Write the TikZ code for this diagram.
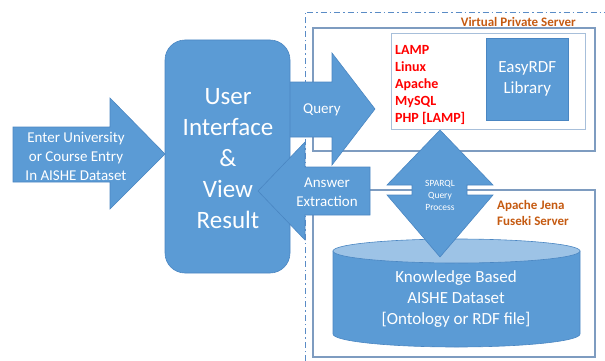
\documentclass[tikz,border=0pt]{standalone}
\usepackage{fontspec}
\setmainfont{Carlito}
\definecolor{shapeblue}{HTML}{5B9BD5}
\definecolor{shapeedge}{HTML}{4A86C2}
\definecolor{cyltop}{HTML}{9DC3E6}
\definecolor{boxline}{HTML}{7E9CC0}
\definecolor{innerline}{HTML}{A7BFDA}
\definecolor{dashline}{HTML}{5A8CC6}
\definecolor{orangetxt}{HTML}{C55A11}
\tikzset{
  blueshape/.style={fill=shapeblue, draw=shapeedge, line width=0.6pt, line join=miter},
  whitetext/.style={text=white, align=center, inner sep=0pt},
  servbox/.style={draw=boxline, line width=1.4pt},
  lampbox/.style={draw=innerline, line width=0.8pt},
  vpsline/.style={draw=dashline, line width=0.9pt, dash pattern=on 6pt off 3pt on 1.5pt off 3pt},
  orangelabel/.style={text=orangetxt, font=\bfseries\fontsize{13}{16}\selectfont, align=left, inner sep=0pt},
}
\begin{document}
\begin{tikzpicture}[x=1pt, y=-1pt]
\useasboundingbox (0,0) rectangle (605,361);
% outer dash-dot region
\draw[vpsline] (305,361) -- (305,12) -- (606,12);
% server boxes
\draw[servbox] (313,28) rectangle (595,151);
\draw[servbox] (313,190) rectangle (595,357);
\draw[lampbox] (391,33) rectangle (585,129);
\node[orangelabel, anchor=east] (vps) at (576,22) {Virtual Private Server};
\node[orangelabel, anchor=west] (jena) at (497,213) {Apache Jena\\Fuseki Server};
% LAMP text
\node[text=red, font=\bfseries\fontsize{14}{17}\selectfont, align=left, inner sep=0pt, anchor=west] (lamp) at (395,85)
  {LAMP\\Linux\\Apache\\MySQL\\PHP [LAMP]};
% EasyRDF
\node[blueshape, minimum width=82pt, minimum height=82pt, anchor=north west, inner sep=0pt] (easy) at (486,38) {};
\node[whitetext, font=\fontsize{17}{21}\selectfont] (easytxt) at (easy.center) {EasyRDF\\Library};
% cylinder
\path[blueshape] (333,251) -- (333,334) arc[start angle=180, end angle=360, x radius=123.5pt, y radius=13pt] -- (580,251) -- cycle;
\path[fill=cyltop, draw=shapeedge, line width=0.6pt] (456.5,251) ellipse [x radius=123.5pt, y radius=12pt];
% SPARQL double arrow
\path[blueshape] (440,130) -- (493,185) -- (467,185) -- (467,195) -- (493,195) -- (440,257)
  -- (387,195) -- (412,195) -- (412,185) -- (387,185) -- cycle;
\node[whitetext, font=\fontsize{9.5}{12}\selectfont] (sparql) at (440,195) {SPARQL\\Query\\Process};
\node[whitetext, font=\fontsize{17}{21}\selectfont] (kb) at (456,299) {Knowledge Based\\AISHE Dataset\\{[}Ontology or RDF file{]}};
% Query arrow
\path[blueshape] (285,82) -- (332,82) -- (332,53) -- (375,109) -- (332,165) -- (332,137) -- (285,137) -- cycle;
\node[whitetext, font=\fontsize{15}{19}\selectfont] (query) at (322,110) {Query};
% User interface
\path[blueshape, rounded corners=20pt] (165,40) rectangle (290,273);
\node[whitetext, font=\fontsize{25}{31}\selectfont] (ui) at (228,159) {User\\Interface\\\&\\View\\Result};
% Answer arrow
\path[blueshape] (370,167) -- (305,167) -- (305,142) -- (258,191) -- (305,240) -- (305,215) -- (370,215) -- cycle;
\node[whitetext, font=\fontsize{15}{19}\selectfont] (answer) at (327,192) {Answer\\Extraction};
% Enter arrow
\path[blueshape] (13,127) -- (110,127) -- (110,98) -- (165,154) -- (110,209) -- (110,182) -- (13,182) -- cycle;
\node[whitetext, font=\fontsize{15}{19}\selectfont] (enter) at (76,156) {Enter University\\or Course Entry\\In AISHE Dataset};
\end{tikzpicture}
\end{document}
